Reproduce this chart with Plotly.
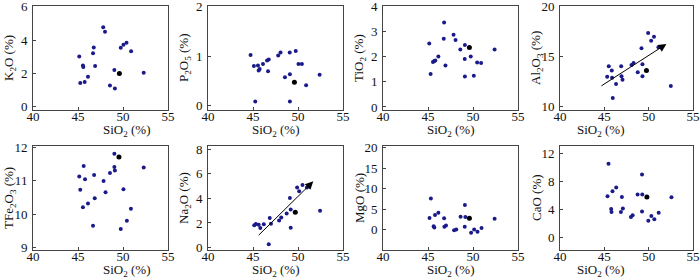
import plotly.graph_objects as go

# ---------------- data ----------------
sio2_ticks = [40, 45, 50, 55]

k2o_x = [45.14, 45.55, 45.59, 45.25, 45.74, 46.11, 46.67, 46.75, 46.90, 47.80, 48.00, 48.55, 49.04, 49.10, 49.75, 50.05, 50.39, 50.90, 52.30]
k2o_y = [3.01, 2.48, 2.38, 1.43, 1.49, 1.80, 3.21, 3.56, 2.44, 4.77, 4.51, 1.27, 2.20, 1.09, 3.54, 3.72, 3.84, 3.33, 2.04]

p2o5_x = [44.73, 45.10, 45.25, 45.55, 45.63, 45.74, 46.11, 46.56, 46.75, 46.67, 47.80, 48.06, 48.55, 49.08, 49.10, 49.10, 49.75, 50.05, 50.43, 50.90, 52.40]
p2o5_y = [1.02, 0.80, 0.08, 0.81, 0.71, 0.74, 0.84, 0.91, 0.93, 0.69, 1.01, 1.07, 0.57, 1.07, 0.63, 0.08, 1.10, 0.84, 0.84, 0.41, 0.62]

tio2_x = [45.14, 45.29, 45.55, 45.70, 45.81, 46.15, 46.75, 46.79, 46.94, 47.84, 48.06, 48.59, 49.10, 49.08, 49.10, 49.75, 50.09, 50.46, 50.90, 52.40]
tio2_y = [2.53, 1.32, 1.80, 1.84, 1.86, 2.01, 2.72, 3.37, 1.66, 2.88, 2.67, 2.29, 2.47, 1.92, 1.22, 2.01, 1.25, 1.78, 1.76, 2.29]

al2o3_x = [45.32, 45.50, 45.84, 45.87, 45.95, 46.32, 46.90, 46.94, 47.05, 48.06, 48.30, 48.77, 49.19, 49.30, 49.30, 49.94, 50.28, 50.60, 51.10, 52.50]
al2o3_y = [12.93, 14.00, 13.57, 12.83, 10.80, 12.20, 14.00, 13.00, 12.63, 14.13, 14.33, 13.40, 15.80, 14.20, 13.00, 17.33, 16.57, 16.97, 15.90, 12.00]

tfe2o3_x = [45.14, 45.25, 45.63, 45.55, 45.78, 46.11, 46.67, 46.79, 46.86, 47.84, 48.06, 48.55, 49.04, 49.04, 49.10, 49.75, 50.05, 50.43, 50.88, 52.30]
tfe2o3_y = [11.13, 10.73, 11.45, 10.21, 11.05, 10.32, 9.65, 11.18, 10.48, 11.00, 10.66, 11.24, 11.82, 11.42, 11.31, 9.55, 10.75, 9.80, 10.16, 11.40]

na2o_x = [45.14, 45.32, 45.63, 45.81, 46.20, 46.75, 46.86, 47.00, 47.90, 48.14, 48.74, 49.10, 49.19, 49.19, 49.90, 50.13, 50.50, 50.99, 52.45]
na2o_y = [1.81, 1.91, 1.86, 1.59, 1.89, 0.27, 2.40, 1.94, 2.21, 2.45, 2.78, 4.04, 3.10, 1.62, 4.90, 4.58, 5.09, 4.90, 2.99]

mgo_x = [45.17, 45.32, 45.63, 45.70, 45.78, 46.15, 46.79, 46.82, 47.00, 47.90, 48.14, 48.62, 49.10, 49.15, 49.08, 49.79, 50.13, 50.50, 50.95, 52.40]
mgo_y = [2.82, 7.58, 0.81, 0.48, 3.55, 4.11, 2.74, 0.65, 0.97, -0.16, 0.00, 3.15, 5.97, 3.06, 0.65, -0.81, 0.00, -0.56, 0.40, 2.66]

cao_x = [45.36, 45.47, 45.77, 45.81, 45.92, 46.34, 46.87, 46.98, 47.09, 48.00, 48.19, 48.75, 49.25, 49.28, 49.25, 49.96, 50.30, 50.64, 51.13, 52.57]
cao_y = [5.86, 10.49, 4.02, 3.59, 6.57, 7.09, 3.59, 5.76, 4.11, 2.88, 3.12, 6.09, 8.97, 6.09, 3.68, 2.36, 3.02, 2.55, 3.50, 5.72]

# highlighted (black) sample in each panel
black_x = [49.6, 49.6, 49.6, 49.75, 49.55, 49.7, 49.6, 49.8]
black_y = [2.00, 0.47, 2.37, 13.57, 11.72, 2.88, 2.74, 5.76]

panel_names = ["K<sub>2</sub>O (%)", "P<sub>2</sub>O<sub>5</sub> (%)", "TiO<sub>2</sub> (%)",
               "Al<sub>2</sub>O<sub>3</sub> (%)", "TFe<sub>2</sub>O<sub>3</sub> (%)",
               "Na<sub>2</sub>O (%)", "MgO (%)", "CaO (%)"]
panel_x = [k2o_x, p2o5_x, tio2_x, al2o3_x, tfe2o3_x, na2o_x, mgo_x, cao_x]
panel_y = [k2o_y, p2o5_y, tio2_y, al2o3_y, tfe2o3_y, na2o_y, mgo_y, cao_y]
y_ranges = [[-0.2, 6.05], [-0.09, 2.01], [-0.12, 4.03], [9.6, 20.05],
            [8.92, 12.05], [-0.2, 8.27], [-5, 20.4], [-1.84, 13.04]]
y_ticks = [[0, 2, 4, 6], [0, 1, 2], [0, 1, 2, 3, 4], [10, 15, 20],
           [9, 10, 11, 12], [0, 2, 4, 6, 8], [0, 5, 10, 15, 20], [0, 4, 8, 12]]

# trend arrows: start x, start y, end x, end y
arrow_al2o3 = [44.5, 11.93, 52.0, 16.23]
arrow_na2o = [45.47, 0.89, 51.7, 5.39]

# ---------------- layout geometry ----------------
W, H = 700, 278
col_l = [33, 208, 383, 560]
col_r = [168, 343, 518, 693]
row_t = [6, 146]
row_b = [110, 250]

FONT = "Liberation Serif, Times New Roman, serif"
DOT = "#1a1a8a"
AXC = "#444444"

fig = go.Figure()
layout = dict(
    width=W, height=H, margin=dict(l=0, r=0, t=0, b=0, autoexpand=False),
    paper_bgcolor="white", plot_bgcolor="white", showlegend=False,
    font=dict(family=FONT, size=12, color="#111111"),
)
annotations = []

for i in range(8):
    r, c = divmod(i, 4)
    n = "" if i == 0 else str(i + 1)
    xa, ya = "x" + n, "y" + n
    fig.add_trace(go.Scatter(x=panel_x[i], y=panel_y[i], mode="markers",
                             marker=dict(color=DOT, size=4), xaxis=xa, yaxis=ya,
                             hoverinfo="skip"))
    fig.add_trace(go.Scatter(x=[black_x[i]], y=[black_y[i]], mode="markers",
                             marker=dict(color="black", size=5), xaxis=xa, yaxis=ya,
                             hoverinfo="skip"))
    common = dict(showgrid=False, zeroline=False, showline=True, linecolor=AXC,
                  linewidth=1, mirror=True, ticks="inside", ticklen=3,
                  tickcolor=AXC, automargin=False, ticklabeloverflow="allow",
                  tickfont=dict(family=FONT, size=13, color="#111"))
    layout["xaxis" + n] = dict(domain=[col_l[c] / W, col_r[c] / W], range=[40, 55],
                               tickvals=sio2_ticks, anchor=ya, ticklabelstandoff=-6,
                               **common)
    layout["yaxis" + n] = dict(domain=[1 - row_b[r] / H, 1 - row_t[r] / H],
                               range=y_ranges[i], tickvals=y_ticks[i], anchor=xa,
                               ticklabelstandoff=2, **common)
    # axis titles
    annotations.append(dict(text="SiO<sub>2</sub> (%)", xref="paper", yref="paper",
                            x=(col_l[c] + col_r[c]) / 2 / W,
                            y=1 - (row_b[r] + 20) / H, yanchor="middle",
                            showarrow=False, font=dict(family=FONT, size=13)))
    annotations.append(dict(text=panel_names[i], xref="paper", yref="paper",
                            x=(col_l[c] - 24) / W, y=1 - (row_t[r] + row_b[r]) / 2 / H,
                            textangle=-90, xanchor="center", yanchor="middle",
                            showarrow=False, font=dict(family=FONT, size=13)))

for idx, arr in [(3, arrow_al2o3), (5, arrow_na2o)]:
    n = str(idx + 1)
    annotations.append(dict(x=arr[2], y=arr[3], ax=arr[0], ay=arr[1],
                            xref="x" + n, yref="y" + n, axref="x" + n, ayref="y" + n,
                            text="", showarrow=True, arrowhead=2, arrowsize=1.6,
                            arrowwidth=1, arrowcolor="black"))

layout["annotations"] = annotations
fig.update_layout(**layout)
fig.write_html("out.html", config={"displayModeBar": False, "staticPlot": True},
               post_script="document.body.style.margin='0';document.body.style.padding='0';"
                           "document.documentElement.style.overflow='hidden';")
